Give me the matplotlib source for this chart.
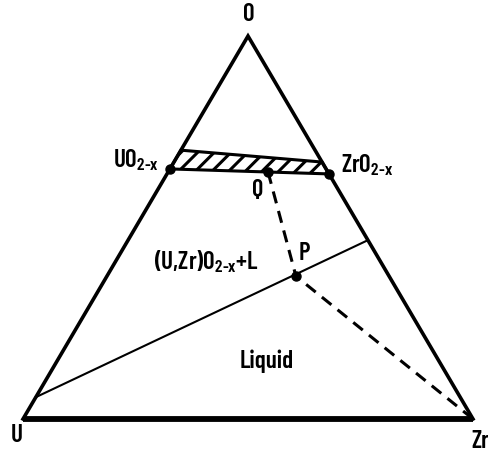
import matplotlib
matplotlib.use("Agg")
import matplotlib.pyplot as plt
from matplotlib.patches import Polygon

plt.rcParams['font.family'] = ['Barlow Condensed', 'DejaVu Sans']
plt.rcParams['font.weight'] = 600
plt.rcParams['mathtext.fontset'] = 'custom'
plt.rcParams['mathtext.rm'] = 'Barlow Condensed:semibold'
plt.rcParams['mathtext.it'] = 'Barlow Condensed:semibold'
plt.rcParams['hatch.linewidth'] = 2.2

# ---- data: compositions as (U, Zr, O) fractions ----
vertex_names = ["U", "Zr", "O"]
vertex_U = (1.0, 0.0, 0.0)
vertex_Zr = (0.0, 1.0, 0.0)
vertex_O = (0.0, 0.0, 1.0)

uo2x = (0.347, 0.0, 0.653)        # UO2-x
zro2x = (0.0, 0.360, 0.640)       # ZrO2-x
band_top_left = (0.298, 0.0, 0.702)
band_top_right = (0.0, 0.329, 0.671)
point_Q = (0.133, 0.222, 0.645)
point_P = (0.207, 0.420, 0.373)
tie_start = (0.943, 0.0, 0.057)
tie_end = (0.0, 0.533, 0.467)

H = 0.851  # vertical scale of the drawn triangle


def tern(c):
    u, zr, o = c
    return zr + 0.5 * o, H * o


def pix(px, py):
    return (px - 23) / 450.0, (419 - py) / 450.0


fig = plt.figure(figsize=(4.88, 4.51), dpi=100)
ax = fig.add_axes([0, 0, 1, 1])
ax.set_xlim(-23 / 450, 465 / 450)
ax.set_ylim(-32 / 450, 419 / 450)
ax.axis('off')

U = tern(vertex_U); Zr = tern(vertex_Zr); O = tern(vertex_O)

# triangle sides
ax.plot([U[0], O[0], Zr[0]], [U[1], O[1], Zr[1]], color='black', lw=2.6,
        solid_joinstyle='miter', zorder=3)
ax.plot([U[0], Zr[0]], [U[1], Zr[1]], color='black', lw=4.2,
        solid_capstyle='butt', zorder=3)

# hatched band
band = [tern(band_top_left), tern(band_top_right), tern(zro2x), tern(uo2x)]
ax.add_patch(Polygon(band, closed=True, facecolor='white', edgecolor='black',
                     hatch='//', lw=2.2, zorder=2))

# tie line
a = tern(tie_start); b = tern(tie_end)
ax.plot([a[0], b[0]], [a[1], b[1]], color='black', lw=1.5, zorder=2)

# dashed path Q -> P -> Zr
q = tern(point_Q); p = tern(point_P)
ax.plot([q[0], p[0], Zr[0]], [q[1], p[1], Zr[1]], color='black', lw=2.2,
        dashes=(4, 2.6), zorder=2)

# dots
for c in [uo2x, zro2x, point_Q, point_P]:
    x, y = tern(c)
    ax.plot(x, y, 'o', color='black', ms=6.5, zorder=4)

fs = 18
ax.text(*pix(249, 15), "O", fontsize=fs, ha='center', va='center')
ax.text(*pix(17, 436), "U", fontsize=fs, ha='center', va='center')
ax.text(*pix(471, 441), "Zr", fontsize=fs, ha='left', va='center')
ax.text(*pix(159, 160), r"UO$_{\text{2-x}}$", fontsize=fs, ha='right', va='center')
ax.text(*pix(341, 165), r"ZrO$_{\text{2-x}}$", fontsize=fs, ha='left', va='center')
ax.text(*pix(258, 191), "Q", fontsize=fs, ha='center', va='center')
ax.text(*pix(304, 254), "P", fontsize=fs, ha='center', va='center')
ax.text(*pix(154, 262), r"(U,Zr)O$_{\text{2-x}}$+L", fontsize=fs, ha='left', va='center')
ax.text(*pix(267, 361), "Liquid", fontsize=fs, ha='center', va='center')

fig.savefig("out.png", dpi=100)
